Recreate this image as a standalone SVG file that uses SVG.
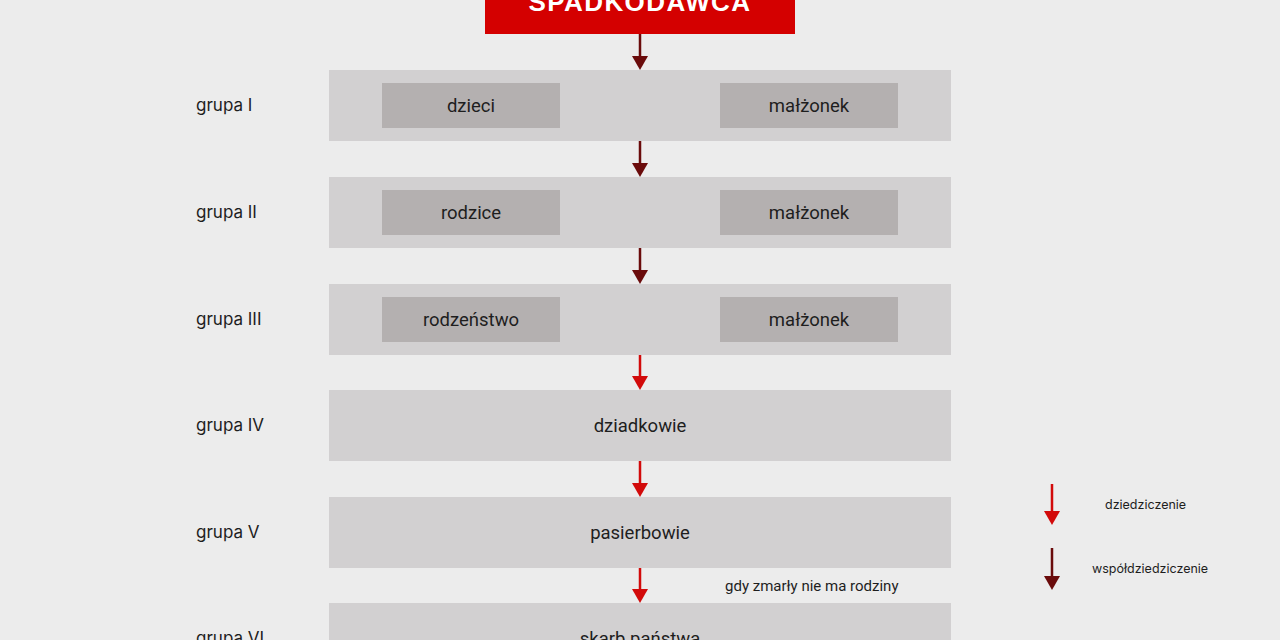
<svg xmlns="http://www.w3.org/2000/svg" width="1280" height="640" viewBox="0 0 1280 640">
<defs>
<style>
.row{fill:#d2d0d1}
.cell{fill:#b4b0b0}
.lbl{font-family:Inter,"Liberation Sans",sans-serif;font-size:17px;fill:#1e1e1e}
.txt{font-family:Roboto,"Liberation Sans",sans-serif;font-size:18.5px;fill:#1e1e1e;text-anchor:middle}
.note{font-family:Roboto,"Liberation Sans",sans-serif;font-size:15px;fill:#1e1e1e}
.leg{font-family:Inter,"Liberation Sans",sans-serif;font-size:12.5px;fill:#1e1e1e}
.red{stroke:#d20a0a;stroke-width:2.5;fill:none}
.dark{stroke:#6a0b0b;stroke-width:2.5;fill:none}
.hr{fill:#d20a0a}
.hd{fill:#6a0b0b}
</style>
</defs>
<rect width="1280" height="640" fill="#ececec"/>
<g id="spadkodawca">
<rect x="485" y="-10" width="310" height="44" fill="#d40000"/>
<text x="640" y="11" text-anchor="middle" font-family="'Liberation Sans',Arial,sans-serif" font-size="26" font-weight="700" letter-spacing="1.4" fill="#ffffff">SPADKODAWCA</text>
</g>
<g id="grupa1">
<text class="lbl" x="196" y="111">grupa I</text>
<rect class="row" x="329" y="70" width="622" height="71"/>
<rect class="cell" x="382" y="83" width="178" height="45"/>
<rect class="cell" x="720" y="83" width="178" height="45"/>
<text class="txt" x="471" y="112">dzieci</text>
<text class="txt" x="809" y="112">małżonek</text>
</g>
<g id="grupa2">
<text class="lbl" x="196" y="218">grupa II</text>
<rect class="row" x="329" y="177" width="622" height="71"/>
<rect class="cell" x="382" y="190" width="178" height="45"/>
<rect class="cell" x="720" y="190" width="178" height="45"/>
<text class="txt" x="471" y="219">rodzice</text>
<text class="txt" x="809" y="219">małżonek</text>
</g>
<g id="grupa3">
<text class="lbl" x="196" y="325">grupa III</text>
<rect class="row" x="329" y="284" width="622" height="71"/>
<rect class="cell" x="382" y="297" width="178" height="45"/>
<rect class="cell" x="720" y="297" width="178" height="45"/>
<text class="txt" x="471" y="326">rodzeństwo</text>
<text class="txt" x="809" y="326">małżonek</text>
</g>
<g id="grupa4">
<text class="lbl" x="196" y="431">grupa IV</text>
<rect class="row" x="329" y="390" width="622" height="71"/>
<text class="txt" x="640" y="432">dziadkowie</text>
</g>
<g id="grupa5">
<text class="lbl" x="196" y="538">grupa V</text>
<rect class="row" x="329" y="497" width="622" height="71"/>
<text class="txt" x="640" y="539">pasierbowie</text>
</g>
<g id="grupa6">
<text class="lbl" x="196" y="644">grupa VI</text>
<rect class="row" x="329" y="603" width="622" height="50"/>
<text class="txt" x="640" y="645">skarb państwa</text>
</g>
<g id="connectors">
<line class="dark" x1="640" y1="34" x2="640" y2="58"/>
<path class="hd" d="M632 56 L648 56 L640 70 Z"/>
<line class="dark" x1="640" y1="141" x2="640" y2="165"/>
<path class="hd" d="M632 163 L648 163 L640 177 Z"/>
<line class="dark" x1="640" y1="248" x2="640" y2="272"/>
<path class="hd" d="M632 270 L648 270 L640 284 Z"/>
<line class="red" x1="640" y1="355" x2="640" y2="378"/>
<path class="hr" d="M632 376 L648 376 L640 390 Z"/>
<line class="red" x1="640" y1="461" x2="640" y2="485"/>
<path class="hr" d="M632 483 L648 483 L640 497 Z"/>
<line class="red" x1="640" y1="568" x2="640" y2="591"/>
<path class="hr" d="M632 589 L648 589 L640 603 Z"/>
<text class="note" x="725" y="591">gdy zmarły nie ma rodziny</text>
</g>
<g id="legenda">
<line class="red" x1="1052" y1="484" x2="1052" y2="513"/>
<path class="hr" d="M1044 511 L1060 511 L1052 525 Z"/>
<text class="leg" x="1105" y="509">dziedziczenie</text>
<line class="dark" x1="1052" y1="548" x2="1052" y2="578"/>
<path class="hd" d="M1044 576 L1060 576 L1052 590 Z"/>
<text class="leg" x="1092" y="573">współdziedziczenie</text>
</g>
</svg>
